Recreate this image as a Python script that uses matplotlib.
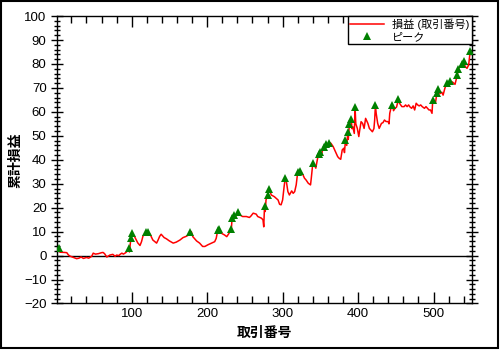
import matplotlib
matplotlib.use("Agg")
import matplotlib.pyplot as plt
from matplotlib.ticker import MultipleLocator
from matplotlib.patches import Rectangle

plt.rcParams['font.family'] = ['Liberation Sans', 'Noto Sans CJK JP', 'DejaVu Sans']

# cumulative P&L by trade number
trade_no = [1, 3, 5, 11, 14, 16, 18, 22, 27, 30, 33, 36, 40, 43, 47, 49, 52, 56, 60, 62,
            64, 67, 71, 75, 78, 80, 83, 85, 87, 89, 92, 94, 96, 97, 99, 100, 102, 104, 108, 111,
            113, 115, 118, 119, 122, 125, 128, 133, 135, 137, 139, 143, 146, 150, 155, 159, 164, 168, 172, 175,
            177, 179, 181, 186, 190, 194, 197, 201, 206, 210, 212, 214, 216, 219, 223, 226, 229, 231, 232, 233,
            236, 238, 241, 243, 247, 252, 256, 258, 261, 265, 267, 272, 274, 275, 276, 277, 278, 280, 282, 285,
            289, 294, 296, 298, 300, 302, 303.5, 305, 307, 309, 312, 314, 316, 318, 320, 322.5, 324, 327, 329, 331,
            334, 337, 338, 340, 342, 344, 346, 347.6, 349, 351, 353, 355.5, 357.7, 360, 362, 364, 367, 369, 371, 373,
            375, 377, 379, 381, 382, 383.3, 385, 386.4, 387, 388.6, 390.9, 392, 393, 395, 396, 397, 399, 401, 402, 404,
            406, 408, 410, 413, 415, 417, 419, 421, 422, 423, 424, 426, 428, 430, 431, 433, 435, 437, 440, 441,
            442, 444.5, 446, 447, 449, 451, 453.5, 455, 458, 461, 463, 465, 467, 469, 471, 473, 475, 477, 479, 481,
            483, 485, 488, 490, 492, 494, 496, 498, 499, 501, 502.5, 504.4, 505.8, 507, 509, 511, 512.7, 515, 517.3, 519,
            521.7, 523, 525, 527, 528.5, 530, 531.5, 533, 535, 537.6, 539.8, 542, 544.4, 546.6, 548, 549]
pnl = [2.0, 3.0, 1.4, 1.3, 1.2, 0.3, -0.2, -0.7, -1.3, -1.1, -0.6, -1.2, -0.8, -1.1, -0.3, 1.0, 0.6, 0.8, 1.2, 1.3,
       0.8, -0.6, 0.2, 0.5, -0.3, 0.2, 0.0, 0.6, 1.0, 0.6, 1.2, 1.8, 3.0, 1.5, 7.5, 9.3, 8.5, 7.8, 5.3, 4.2,
       5.8, 8.2, 9.0, 9.8, 9.8, 8.5, 6.5, 5.2, 6.5, 8.0, 8.9, 7.5, 7.0, 6.1, 5.2, 5.6, 6.5, 7.5, 8.0, 8.5,
       10.0, 10.0, 7.9, 6.1, 5.2, 3.8, 3.8, 4.5, 5.2, 5.8, 7.2, 10.5, 11.2, 9.3, 8.6, 7.9, 9.3, 11.2, 10.5, 15.6,
       17.0, 16.5, 18.0, 17.0, 16.3, 16.3, 15.9, 16.5, 17.7, 17.3, 16.3, 15.6, 14.9, 12.0, 20.5, 18.4, 23.2, 25.3, 27.8, 25.3,
       24.6, 23.2, 21.4, 21.2, 23.2, 28.8, 32.3, 30.9, 26.7, 25.3, 27.0, 26.0, 26.7, 29.5, 34.8, 35.5, 35.0, 33.7, 32.3, 31.6,
       30.2, 29.5, 32.3, 38.5, 37.8, 36.5, 40.0, 42.5, 43.3, 41.3, 44.1, 45.2, 46.5, 46.0, 47.2, 46.9, 45.5, 44.1, 42.7, 41.3,
       40.6, 40.2, 44.1, 44.8, 43.0, 48.3, 46.0, 51.7, 48.5, 55.0, 57.0, 53.0, 53.8, 51.0, 62.0, 55.0, 53.1, 49.7, 52.0, 55.9,
       55.2, 53.1, 57.3, 55.2, 53.1, 52.4, 51.7, 53.0, 56.6, 62.8, 59.4, 55.2, 53.1, 54.5, 55.2, 55.5, 56.6, 56.0, 55.9, 55.0,
       59.4, 62.8, 62.5, 60.5, 61.5, 62.0, 65.3, 63.6, 62.2, 62.2, 62.9, 62.2, 62.9, 62.0, 61.5, 62.5, 60.8, 63.6, 62.9, 62.5,
       62.9, 62.2, 61.5, 62.2, 61.5, 60.8, 60.8, 59.4, 65.0, 64.0, 63.6, 67.7, 69.6, 68.0, 67.7, 68.2, 67.0, 69.8, 71.9, 71.5,
       73.0, 71.9, 72.5, 71.9, 71.5, 73.5, 75.4, 78.0, 78.9, 80.0, 81.3, 78.9, 78.2, 79.6, 83.7, 85.5]

# peak markers
peak_x = [3, 96, 99, 100, 119, 122, 177, 214, 216, 231, 233, 236, 241, 276, 280, 282, 303.5, 320, 322.5,
          340, 347.6, 349, 355.5, 357.7, 362, 383.3, 386.4, 388.6, 390.9, 396, 423, 444.5, 453.5,
          499, 504.4, 505.8, 517.3, 521.7, 531.5, 533, 537.6, 539.8, 549]
peak_y = [3.0, 3.0, 7.5, 9.3, 9.8, 9.8, 10.0, 10.5, 11.2, 11.2, 15.6, 17.0, 18.0, 20.5, 25.3, 27.8, 32.3, 34.8, 35.5,
          38.5, 42.5, 43.3, 45.2, 46.5, 47.2, 48.3, 51.7, 55.0, 57.0, 62.0, 62.8, 62.8, 65.3,
          65.0, 67.7, 69.6, 71.9, 73.0, 75.4, 78.0, 80.0, 81.3, 85.5]

series_label = "損益 (取引番号)"
peak_label = "ピーク"
x_label = "取引番号"
y_label = "累計損益"

fig = plt.figure(figsize=(5, 3.5), dpi=100)
ax = fig.add_axes([0.114, 0.133, 0.830, 0.821])

ax.axhline(0, color='black', lw=1, zorder=1)
ax.plot(trade_no, pnl, color='red', lw=1.1, label=series_label, zorder=2)
ax.plot(peak_x, peak_y, linestyle='none', marker='^', color='#008000', markersize=5.5,
        markeredgewidth=0, label=peak_label, zorder=3)

ax.set_xlim(1, 551)
ax.set_ylim(-20, 100)
ax.xaxis.set_major_locator(MultipleLocator(100))
ax.xaxis.set_minor_locator(MultipleLocator(20))
ax.yaxis.set_major_locator(MultipleLocator(10))
ax.yaxis.set_minor_locator(MultipleLocator(2))
ax.tick_params(which='major', direction='inout', length=8, width=1, labelsize=9.5,
               top=True, right=True, colors='black')
ax.tick_params(which='minor', direction='inout', length=5, width=1, top=True, right=True)
ax.tick_params(axis='x', which='both', direction='in')
ax.tick_params(axis='y', which='both', right=True)
for s in ax.spines.values():
    s.set_linewidth(1)

ax.set_xlabel(x_label, fontsize=10, fontweight='bold', labelpad=4)
ax.set_ylabel(y_label, fontsize=10, fontweight='bold', labelpad=1)

leg = ax.legend(loc='upper right', fontsize=8, frameon=True, fancybox=False, framealpha=1,
                edgecolor='black', borderpad=0.2, handlelength=3.0, labelspacing=0.2,
                borderaxespad=0.0)
leg.get_frame().set_linewidth(1)

fig.patches.append(Rectangle((0.002, 0.005), 0.993, 0.993, transform=fig.transFigure,
                             fill=False, edgecolor='black', lw=1.5))

fig.savefig("out.png", dpi=100)
